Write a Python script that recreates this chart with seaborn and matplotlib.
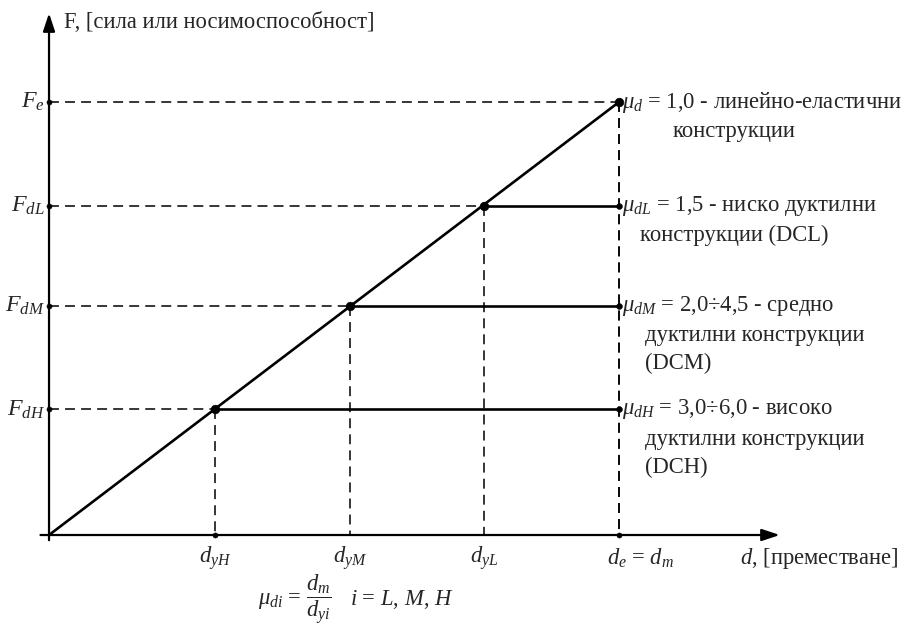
import matplotlib
matplotlib.use("Agg")
import matplotlib.pyplot as plt
import seaborn as sns
import pandas as pd
import numpy as np

sns.set_theme(style="white")
plt.rcParams['font.family'] = ['Liberation Serif', 'DejaVu Serif']
plt.rcParams['mathtext.fontset'] = 'custom'
plt.rcParams['mathtext.rm'] = 'Liberation Serif'
plt.rcParams['mathtext.it'] = 'Liberation Serif:italic'
plt.rcParams['mathtext.bf'] = 'Liberation Serif:bold'

# ---- data (normalised force / displacement levels) ----
levels = ["e", "L", "M", "H"]
F_levels = [1.0, 0.76, 0.53, 0.29]          # F_e, F_dL, F_dM, F_dH
d_yield = [1.0, 0.763, 0.528, 0.291]        # d_e, d_yL, d_yM, d_yH
d_max = 1.0                                  # d_e = d_m
F_labels = [r"$F_{e}$", r"$F_{dL}$", r"$F_{dM}$", r"$F_{dH}$"]
d_labels = [r"$d_{e}$ = $d_{m}$", r"$d_{yL}$", r"$d_{yM}$", r"$d_{yH}$"]
right_line1 = [r"$\mu_{d}$ = 1,0 - линейно-еластични",
               r"$\mu_{dL}$ = 1,5 - ниско дуктилни",
               r"$\mu_{dM}$ = 2,0÷4,5 - средно",
               r"$\mu_{dH}$ = 3,0÷6,0 - високо"]
right_rest = [["конструкции"],
              ["конструкции (DCL)"],
              ["дуктилни конструкции", "(DCM)"],
              ["дуктилни конструкции", "(DCH)"]]
y_title = "F, [сила или носимоспособност]"
x_title = r"$d$, [преместване]"
formula = r"$\mu_{di}$ = $\dfrac{d_{m}}{d_{yi}}$"
formula2 = r"$i$ = $L$, $M$, $H$"

fig = plt.figure(figsize=(9.1, 6.32), dpi=100)
ax = fig.add_axes([0, 0, 1, 1])
ax.set_xlim(-0.086, 1.5105)
ax.set_ylim(-0.224, 1.2356)
ax.axis("off")

FS = 16.3
K = "black"

# axes arrows
ax.annotate("", xy=(0, 1.205), xytext=(0, -0.012),
            arrowprops=dict(arrowstyle="-|>,head_length=0.9,head_width=0.3", lw=1.6, color=K,
                            shrinkA=0, shrinkB=0))
ax.annotate("", xy=(1.282, 0), xytext=(-0.015, 0),
            arrowprops=dict(arrowstyle="-|>,head_length=0.9,head_width=0.3", lw=1.6, color=K,
                            shrinkA=0, shrinkB=0))

# dashed guide lines
dash = dict(color=K, lw=1.1, dashes=(6.5, 4))
for F, dy in zip(F_levels, d_yield):
    ax.plot([0, dy], [F, F], **dash)
    ax.plot([dy, dy], [F, 0], **dash)
ax.plot([d_max, d_max], [F_levels[0], 0], **dash)

# solid response curves
rows = []
rows.append(dict(d=0.0, F=0.0, seg="elastic"))
rows.append(dict(d=d_max, F=F_levels[0], seg="elastic"))
for lv, F, dy in zip(levels[1:], F_levels[1:], d_yield[1:]):
    rows.append(dict(d=dy, F=F, seg=lv))
    rows.append(dict(d=d_max, F=F, seg=lv))
df = pd.DataFrame(rows)
sns.lineplot(data=df, x="d", y="F", units="seg", estimator=None, sort=False,
             color=K, lw=1.9, ax=ax, legend=False)

# dots
pts_big = pd.DataFrame(dict(d=d_yield, F=F_levels))
sns.scatterplot(data=pts_big, x="d", y="F", s=38, color=K, edgecolor=K, ax=ax, legend=False, zorder=5)
pts_end = pd.DataFrame(dict(d=[d_max] * 3, F=F_levels[1:]))
sns.scatterplot(data=pts_end, x="d", y="F", s=18, color=K, edgecolor=K, ax=ax, legend=False, zorder=5)
pts_axis = pd.DataFrame(dict(d=[0] * 4 + [d_yield[3], d_max], F=F_levels + [0, 0]))
sns.scatterplot(data=pts_axis, x="d", y="F", s=14, color=K, edgecolor=K, ax=ax, legend=False, zorder=5)

# left labels
for F, lab in zip(F_levels, F_labels):
    ax.annotate(lab, xy=(0, F), xytext=(-4, 0), textcoords="offset pixels",
                ha="right", va="center", fontsize=FS + 1)

# bottom labels
for dy, lab in zip(d_yield, d_labels):
    off = 22 if lab.startswith(r"$d_{e}") else 0
    ax.annotate(lab, xy=(dy, 0), xytext=(off, -23), textcoords="offset pixels",
                ha="center", va="center", fontsize=FS)

# right labels
for i, (F, l1, rest) in enumerate(zip(F_levels, right_line1, right_rest)):
    ax.annotate(l1, xy=(d_max, F), xytext=(3, 0), textcoords="offset pixels",
                ha="left", va="center", fontsize=FS)
    for j, t in enumerate(rest):
        if i < 2:
            ax.annotate(t, xy=(d_max, F), xytext=(115, -29), textcoords="offset pixels",
                        ha="center", va="center", fontsize=FS)
        else:
            ax.annotate(t, xy=(d_max, F), xytext=(26, -30 - 28 * j), textcoords="offset pixels",
                        ha="left", va="center", fontsize=FS)

# axis titles
ax.annotate(y_title, xy=(0, 1.205), xytext=(15, -9), textcoords="offset pixels",
            ha="left", va="center", fontsize=FS)
ax.annotate(x_title, xy=(1.282, 0), xytext=(-40, -23), textcoords="offset pixels",
            ha="left", va="center", fontsize=FS)

# formula
fig.text(0.283, 0.051, formula, ha="left", va="center", fontsize=FS)
fig.text(0.385, 0.051, formula2, ha="left", va="center", fontsize=FS)

fig.savefig("out.png", dpi=100)
